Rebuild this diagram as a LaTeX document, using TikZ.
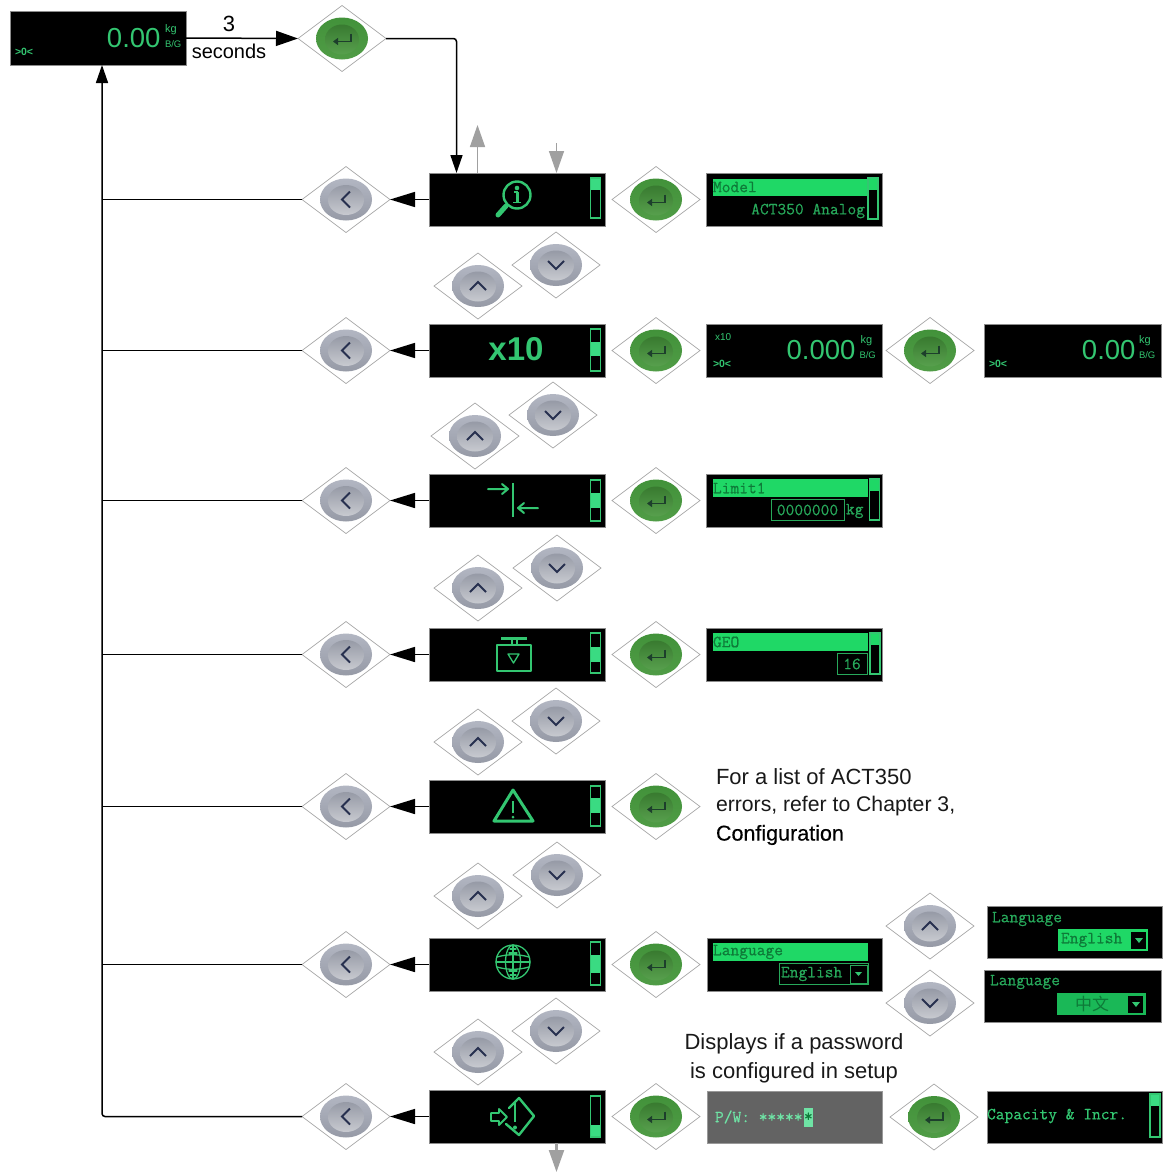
\documentclass[tikz,border=0pt]{standalone}
\usepackage{fontspec}
\setmainfont{Liberation Sans}
\newfontfamily\cjk{Noto Sans CJK SC}
\newfontfamily\lcdf[FakeBold=0.5]{Latin Modern Mono}
\newfontfamily\notebold[FakeBold=0.35]{Liberation Sans}
\usetikzlibrary{arrows.meta,shapes.geometric}
\definecolor{lcd}{HTML}{33C671}
\definecolor{lcdtxt}{HTML}{27A85A}
\definecolor{lcdbar}{HTML}{1FD866}
\definecolor{lcddark}{HTML}{0E7A38}
\definecolor{lcdthumb}{HTML}{3ADB82}
\definecolor{pwgray}{HTML}{636363}
\definecolor{pwtxt}{HTML}{6FE3A5}
\definecolor{frameg}{HTML}{A8A8A8}
\definecolor{glyphnavy}{HTML}{27304F}
\definecolor{glyphgreen}{HTML}{1D3F2C}
\definecolor{grayarrow}{HTML}{A0A0A0}
\definecolor{gkeyA}{RGB}{66,146,58}
\definecolor{gkeyB}{RGB}{80,156,70}
\definecolor{gkeyC}{RGB}{56,122,48}
\definecolor{gkeyD}{RGB}{88,160,78}
\definecolor{skeyA}{RGB}{178,182,194}
\definecolor{skeyB}{RGB}{150,154,166}
\definecolor{skeyC}{RGB}{150,154,166}
\definecolor{skeyD}{RGB}{200,202,208}
\tikzset{
  x=1pt,y=-1pt,
  keydia/.style={shape=diamond,draw=frameg,line width=0.7pt,fill=white,aspect=1.333,minimum width=88pt,minimum height=66pt,inner sep=0pt,outer sep=0pt},
  dispbox/.style={draw=black!45,line width=0.5pt,fill=black,anchor=north west,inner sep=0pt,outer sep=0pt},
  conn/.style={black,line width=1.5pt},
  tipbig/.style={-{Triangle[length=22pt,width=15pt]}},
  tipleft/.style={-{Triangle[length=25pt,width=15pt]}},
  tipup/.style={-{Triangle[length=18pt,width=12pt]}},
  grayconn/.style={grayarrow,line width=1.5pt,-{Triangle[length=22pt,width=15pt]}},
  lcdfr/.style={draw=lcdtxt,line width=1pt},
  lcdtext/.style={inner sep=0pt,outer sep=0pt,text=lcdtxt,font=\lcdf\fontsize{17}{17}\selectfont},
  bartext/.style={lcdtext,text=lcddark},
  digits/.style={inner sep=0pt,outer sep=0pt,text=lcd,font=\fontsize{27.5}{28}\selectfont,anchor=east},
  unitsm/.style={inner sep=0pt,outer sep=0pt,text=lcd,font=\fontsize{11}{11}\selectfont,anchor=west},
  unitbg/.style={inner sep=0pt,outer sep=0pt,text=lcd,font=\fontsize{9.5}{9.5}\selectfont,anchor=west},
  zerot/.style={inner sep=0pt,outer sep=0pt,text=lcd,font=\bfseries\fontsize{10.5}{10.5}\selectfont,anchor=west},
  note/.style={inner sep=0pt,outer sep=0pt,text=black!90,font=\fontsize{22}{24}\selectfont},
  icon/.style={draw=lcd,line width=2.4pt,line cap=round,line join=round},
  iconthin/.style={draw=lcd,line width=1.3pt,line cap=round,line join=round},
}
\newcommand{\greenkey}[3]{%
  \node[keydia] (#1) at (#2,#3) {};
  \begin{scope}[shift={(#1.center)}]
    \shade[top color=gkeyA,bottom color=gkeyB] (0,0) ellipse [x radius=26pt,y radius=21pt];
    \shade[top color=gkeyC,bottom color=gkeyD] (0,1) ellipse [x radius=17pt,y radius=15pt];
    \draw[glyphgreen,line width=1.9pt,-{Triangle[length=5pt,width=7pt]}] (9,-5)--(9,3)--(-9,3);
  \end{scope}}
\newcommand{\silverkey}[4]{%
  \node[keydia] (#1) at (#2,#3) {};
  \begin{scope}[shift={(#1.center)}]
    \shade[top color=skeyA,bottom color=skeyB] (0,0) ellipse [x radius=26pt,y radius=21pt];
    \shade[top color=skeyC,bottom color=skeyD] (0,0.5) ellipse [x radius=18pt,y radius=15pt];
    \draw[glyphnavy,line width=2pt,line join=miter] #4;
  \end{scope}}
\newcommand{\upglyph}{(-8,4)--(0,-4)--(8,4)}
\newcommand{\dnglyph}{(-8,-4)--(0,4)--(8,-4)}
\newcommand{\bkglyph}{(4,-8)--(-4,0)--(4,8)}
\newcommand{\menubox}[6]{%
  \node[dispbox,minimum width=176pt,minimum height=53pt] (#1) at (429,#2) {};
  \fill[lcdthumb] (590.5,#5) rectangle (600.5,#6);
  \draw[lcd,line width=1.3pt] (590.5,#3) rectangle (600.5,#4);}
\newcommand{\dbox}[6]{%
  \node[dispbox,minimum width=#4pt,minimum height=#5pt,#6] (#1) at (#2,#3) {};}
\begin{document}
\begin{tikzpicture}
\useasboundingbox (0,0) rectangle (1171,1173);
\fill[white] (0,0) rectangle (1171,1173);

% top row
\dbox{d0}{10}{11}{176}{54}{}
\node[digits] (d0v) at (160.5,38) {0.00};
\node[unitsm] (d0k) at (165,29.5) {kg};
\node[unitbg] (d0b) at (165,44.5) {B/G};
\node[zerot] (d0z) at (15,52) {>0<};
\greenkey{e0}{342}{38.5}
\node[inner sep=0pt,font=\fontsize{22}{22}\selectfont] (t3) at (229,24) {3};
\node[inner sep=0pt,font=\fontsize{20}{20}\selectfont] (tsec) at (229,51) {seconds};

% menu rows
\menubox{m1}{173}{178}{218}{178}{190}
\menubox{m2}{324}{329}{371}{342}{356}
\menubox{m3}{474}{480}{521}{493}{508}
\menubox{m4}{628}{633}{673}{647}{662}
\menubox{m5}{780}{786}{826}{798}{813}
\menubox{m6}{938}{942}{985}{955}{973}
\menubox{m7}{1090}{1096}{1137}{1125}{1137}

% back keys
\silverkey{b1}{346}{199.5}{\bkglyph}
\silverkey{b2}{346}{350.5}{\bkglyph}
\silverkey{b3}{346}{500.5}{\bkglyph}
\silverkey{b4}{346}{654.5}{\bkglyph}
\silverkey{b5}{346}{806.5}{\bkglyph}
\silverkey{b6}{346}{964.5}{\bkglyph}
\silverkey{b7}{346}{1116.5}{\bkglyph}

% enter keys
\greenkey{e1}{656}{199.5}
\greenkey{e2}{656}{350.5}
\greenkey{e3}{656}{500.5}
\greenkey{e4}{656}{654.5}
\greenkey{e5}{656}{806.5}
\greenkey{e6}{656}{964.5}
\greenkey{e7}{656}{1116.5}
\greenkey{e2b}{930}{350.5}
\greenkey{e7b}{934}{1117}

% up/down keys
\silverkey{u1}{478}{286}{\upglyph}\silverkey{v1}{556}{265}{\dnglyph}
\silverkey{u2}{475}{436}{\upglyph}\silverkey{v2}{553}{415}{\dnglyph}
\silverkey{u3}{478}{588}{\upglyph}\silverkey{v3}{557}{568}{\dnglyph}
\silverkey{u4}{478}{742}{\upglyph}\silverkey{v4}{556}{721}{\dnglyph}
\silverkey{u5}{478}{896}{\upglyph}\silverkey{v5}{557}{875}{\dnglyph}
\silverkey{u6}{478}{1052}{\upglyph}\silverkey{v6}{556}{1031}{\dnglyph}
\silverkey{u7}{930}{926}{\upglyph}\silverkey{v7}{930}{1003}{\dnglyph}

% connectors
\coordinate (trunktop) at (102,65);
\coordinate (entry) at (456.5,173);
\draw[conn,tipbig] (d0.east) -- (e0.west);
\draw[conn,tipup,rounded corners=3pt] (e0.east) -| (entry);
\draw[conn,tipup,rounded corners=3pt] (b7.west) -| (trunktop);
\foreach \r in {1,...,7}{\draw[conn,tipleft] (m\r.west) -- (b\r.east);}
\foreach \r in {1,...,6}{\draw[conn] (b\r.west) -- (b\r.west -| trunktop);}
% grey arrows
\coordinate (ga1) at (477.5,173);\coordinate (ga2) at (477.5,125);
\coordinate (gb1) at (556.5,143);\coordinate (gb2) at (556.5,173);
\coordinate (gc1) at (556.5,1143);\coordinate (gc2) at (556.5,1172);
\draw[grayconn] (ga1) -- (ga2);
\draw[grayconn] (gb1) -- (gb2);
\draw[grayconn,line width=2.2pt] (gc1) -- (gc2);

% icons
\begin{scope}[shift={(517,195)}]
  \draw[icon] (0,0) circle [radius=13.5pt];
  \draw[lcd,line width=5pt,line cap=round] (-11,11)--(-19,20);
  \fill[lcd] (0,-7) circle [radius=2.3pt];
  \draw[lcd,line width=3pt] (0,-3)--(0,7);
  \draw[lcd,line width=1.6pt] (-3,-3)--(1,-3) (-4,7.5)--(4,7.5);
\end{scope}
\node[inner sep=0pt,outer sep=0pt,text=lcd,font=\bfseries\fontsize{33}{33}\selectfont] (x10) at (516,349) {x10};
% limit
\draw[icon,line width=2.6pt,line cap=butt] (513,483)--(513,517);
\draw[icon,line width=2pt] (488,489)--(508,489) (502,484)--(508,489)--(502,494);
\draw[icon,line width=2pt] (538,508)--(518,508) (524,503)--(518,508)--(524,513);
% weight
\draw[iconthin,line width=1.8pt] (497,645) rectangle (531,671);
\fill[lcd] (501,636.5) rectangle (527,640);
\draw[iconthin] (512,640)--(512,645) (517,640)--(517,645);
\draw[iconthin] (508,654)--(519,654)--(513.5,663)--cycle;
% warning
\draw[icon,line width=3pt] (513,790)--(533,821)--(494,821)--cycle;
\draw[lcd,line width=2.4pt] (513,801)--(513,813);
\fill[lcd] (513,817) circle [radius=1.5pt];
% globe
\begin{scope}[shift={(513,962)}]
  \draw[iconthin] (0,0) circle [radius=17pt];
  \draw[iconthin] (0,0) ellipse [x radius=7.5pt,y radius=17pt];
  \draw[iconthin] (-16,-5) .. controls (-6,-8) and (6,-8) .. (16,-5);
  \draw[iconthin] (-16,5) .. controls (-6,8) and (6,8) .. (16,5);
  \draw[iconthin] (-17,0)--(17,0) (0,-17)--(0,17);
  \draw[iconthin] (-3,-13)--(3,-13) (-3,13)--(3,13) (-4,-9)--(4,-9) (-4,9)--(4,9);
\end{scope}
% password
\draw[icon] (509,1108)--(519,1098)--(534,1116)--(519,1135)--(506,1124);
\draw[icon,line width=1.9pt] (491,1113)--(499,1113)--(499,1109)--(507,1117)--(499,1125)--(499,1121)--(491,1121)--cycle;
\draw[lcd,line width=2.8pt] (515,1103)--(515,1122);
\fill[lcd] (515,1127.5) circle [radius=2pt];

% right-hand displays
\dbox{r1}{706}{173}{176}{53}{}
\fill[lcdbar] (713,179) rectangle (866.5,196);
\node[bartext,anchor=west] (r1a) at (713,187) {Model};
\node[lcdtext,anchor=east] (r1b) at (865,211) {ACT350 Analog};
\fill[lcdbar] (868,178) rectangle (878,190);
\draw[lcd,line width=1.3pt] (868,178) rectangle (878,219);

\dbox{r2}{706}{324}{176}{53}{}
\node[inner sep=0pt,outer sep=0pt,text=lcd,font=\fontsize{10}{10}\selectfont,anchor=west] (r2x) at (715,337) {x10};
\node[zerot] (r2z) at (713,364) {>0<};
\node[digits] (r2v) at (855.5,350) {0.000};
\node[unitsm] (r2k) at (860.5,341) {kg};
\node[unitbg] (r2b) at (859.5,355.5) {B/G};
\dbox{r2c}{984.5}{324}{176.5}{53}{}
\node[zerot] (r2cz) at (989,364) {>0<};
\node[digits] (r2cv) at (1135.5,350) {0.00};
\node[unitsm] (r2ck) at (1139,341) {kg};
\node[unitbg] (r2cb) at (1139,355.5) {B/G};

\dbox{r3}{706}{474}{176}{53}{}
\fill[lcdbar] (713,479) rectangle (868,497);
\node[bartext,anchor=west] (r3a) at (713,488) {Limit1};
\draw[lcdfr] (771,499) rectangle (844,520);
\node[lcdtext,anchor=center] (r3b) at (807.5,510) {0000000};
\node[lcdtext,anchor=west] (r3c) at (846,511) {kg};
\fill[lcdbar] (869.5,479) rectangle (879.5,491);
\draw[lcd,line width=1.3pt] (869.5,479) rectangle (879.5,520);

\dbox{r4}{706}{628}{176}{53}{}
\fill[lcdbar] (713,633) rectangle (868,651);
\node[bartext,anchor=west] (r4a) at (713,642) {GEO};
\draw[lcdfr] (837,653) rectangle (867,674);
\node[lcdtext] (r4b) at (852,664) {16};
\fill[lcdbar] (870,633) rectangle (880,645);
\draw[lcd,line width=1.3pt] (870,633) rectangle (880,674);

\node[note,anchor=west] (n1) at (716,777) {For a list of ACT350};
\node[note,anchor=west,font=\fontsize{21.2}{24}\selectfont] (n2) at (716,806) {errors, refer to Chapter 3,};
\node[note,anchor=west,text=black,font=\notebold\fontsize{21.5}{24}\selectfont] (n3) at (716,835) {Configuration};

\dbox{r6}{707}{938}{175}{53}{}
\fill[lcdbar] (713,943) rectangle (868,961);
\node[bartext,anchor=west] (r6a) at (713,952) {Language};
\draw[lcdfr] (779,963) rectangle (868,984);
\node[lcdtext,anchor=west] (r6b) at (781,974) {English};
\draw[lcdfr] (850,965) rectangle (867,983);
\fill[lcd] (855,972) -- (862,972) -- (858.5,976) -- cycle;
\dbox{r6u}{987}{906}{175}{52}{}
\node[lcdtext,anchor=west] (r6ua) at (992,919) {Language};
\fill[lcdbar] (1058,929) rectangle (1148,951);
\node[bartext,anchor=west] (r6ub) at (1061,940) {English};
\fill[black] (1131,932) rectangle (1146,949);
\fill[lcd] (1135,938) -- (1143,938) -- (1139,943) -- cycle;
\dbox{r6d}{984}{970}{177}{52}{}
\node[lcdtext,anchor=west] (r6da) at (990,982) {Language};
\fill[lcdbar!85!black] (1057,993) rectangle (1146,1015);
\node[inner sep=0pt,outer sep=0pt,text=lcddark,font=\cjk\fontsize{17}{17}\selectfont] (r6db) at (1092,1004) {中文};
\fill[black] (1128,996) rectangle (1143,1013);
\fill[lcd] (1132,1002) -- (1140,1002) -- (1136,1007) -- cycle;

\node[note,anchor=center] (n4) at (794,1044) {Displays if a password};
\node[note,anchor=center] (n5) at (794,1073) {is configured in setup};
\dbox{r7}{707}{1091}{175}{52}{draw=black!40,fill=pwgray}
\node[lcdtext,text=pwtxt,anchor=west] (r7a) at (715,1117) {P/W: *****};
\fill[pwtxt] (804,1108) rectangle (813,1127);
\node[lcdtext,text=lcddark,anchor=west] (r7b) at (804,1117) {*};
\dbox{r7c}{987}{1091}{175}{52}{}
\node[lcdtext,text=lcd,anchor=west] (r7ca) at (987,1116) {Capacity \& Incr.};
\fill[lcdthumb] (1150,1094) rectangle (1160,1106);
\draw[lcd,line width=1.3pt] (1150,1094) rectangle (1160,1137);
\end{tikzpicture}
\end{document}
